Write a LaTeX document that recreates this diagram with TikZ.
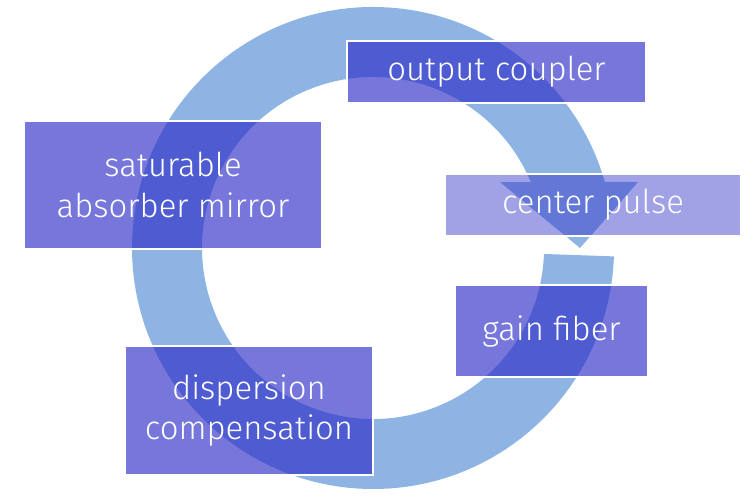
\documentclass[tikz,border=0pt]{standalone}
\usepackage{fontspec}
\setmainfont{Fira Sans Light}
\definecolor{ringblue}{RGB}{142,180,227}
\definecolor{boxblue}{RGB}{46,46,200}

\begin{document}
\begin{tikzpicture}
  [x=0.02cm, y=0.02cm,
   stage/.style={fill=boxblue, fill opacity=0.65, text opacity=1, draw=white,
     line width=1.2pt, text=white, inner sep=0pt, align=center,
     font=\fontsize{18.7}{22.8}\selectfont},
   faint/.style={fill opacity=0.45}]
  \useasboundingbox (0,0) rectangle (750,495);
  \coordinate (c) at (373,247);
  % the ring runs clockwise, head on the right pointing down
  \fill[ringblue] (613.9,238.6) arc[start angle=-2, end angle=-344.1, radius=241]
    -- (638,313) -- (580,247) -- (500,313) -- (530.8,313)
    arc[start angle=-337.3, end angle=-2, radius=171] -- cycle;
  \node[stage, minimum width=5.98cm, minimum height=1.24cm] (coupler) at (496.5,423) {output coupler};
  \node[stage, minimum width=5.96cm, minimum height=2.56cm] (absorber) at (173,310) {saturable\\absorber mirror};
  \node[stage, faint, minimum width=5.92cm, minimum height=1.24cm] (pulse) at (593,290) {center pulse};
  \node[stage, minimum width=3.86cm, minimum height=1.84cm] (gain) at (551.5,164) {gain fiber};
  \node[stage, minimum width=4.96cm, minimum height=2.58cm] (dispersion) at (249,84.5) {dispersion\\compensation};
\end{tikzpicture}
\end{document}
